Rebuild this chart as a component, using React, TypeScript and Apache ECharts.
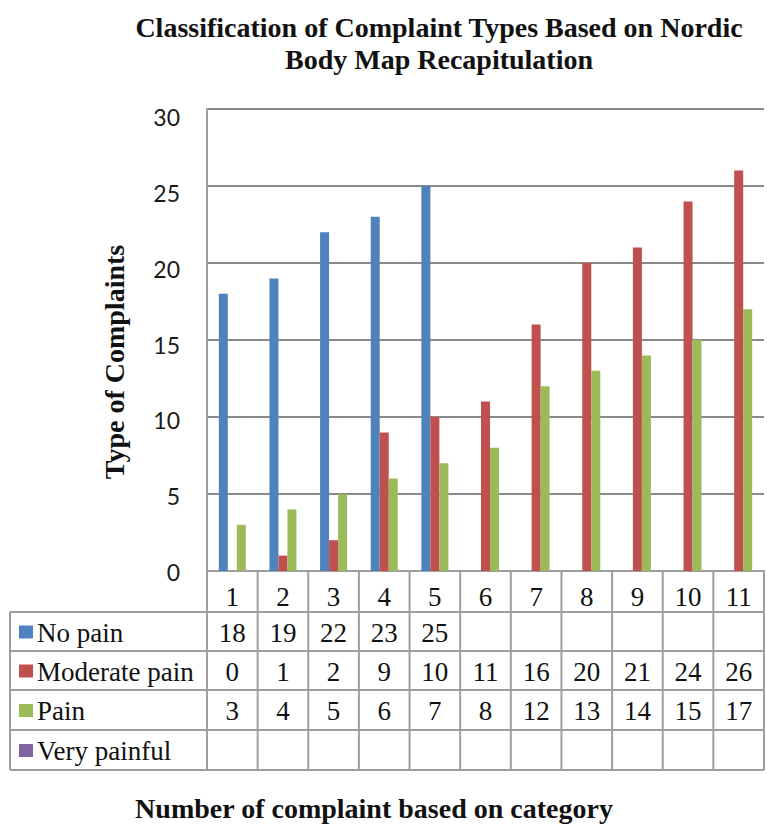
import React, { useEffect, useRef } from "react";
import * as echarts from "echarts";

const categories = ["1", "2", "3", "4", "5", "6", "7", "8", "9", "10", "11"];
const noPain = [18, 19, 22, 23, 25, null, null, null, null, null, null];
const moderatePain = [0, 1, 2, 9, 10, 11, 16, 20, 21, 24, 26];
const pain = [3, 4, 5, 6, 7, 8, 12, 13, 14, 15, 17];
const veryPainful = [null, null, null, null, null, null, null, null, null, null, null];
const seriesNames = ["No pain", "Moderate pain", "Pain", "Very painful"];
const seriesColors = ["#4F81BD", "#C0504D", "#9BBB59", "#8064A2"];
const yMin = 0;
const yMax = 30;
const yInterval = 5;
const titleText = "Classification of Complaint Types Based on Nordic\nBody Map Recapitulation";
const yAxisTitle = "Type of Complaints";
const xAxisTitle = "Number of complaint based on category";

const SERIF = "'Liberation Serif', 'Times New Roman', serif";
const SANS = "Lato, 'Open Sans', sans-serif";
const LINE = "#9e9e9e";

export default function App() {
  const ref = useRef<HTMLDivElement>(null);
  useEffect(() => {
    if (!ref.current) return;
    const chart = echarts.init(ref.current, null, { renderer: "svg" });
    const tableSeries = [noPain, moderatePain, pain, veryPainful];
    const chartSeries = [noPain, moderatePain, pain];
    chart.setOption({
      animation: false,
      backgroundColor: "#ffffff",
      title: [
        {
          text: titleText,
          left: 434,
          top: 6,
          textAlign: "center",
          textStyle: { fontFamily: SERIF, fontWeight: "bold", fontSize: 28, lineHeight: 32, color: "#111" },
        },
        {
          text: xAxisTitle,
          left: 369,
          top: 789,
          textAlign: "center",
          textStyle: { fontFamily: SERIF, fontWeight: "bold", fontSize: 28, lineHeight: 28, color: "#111" },
        },
      ],
      grid: [
        { left: 207, right: 3, top: 109, bottom: 256, containLabel: false },
        { left: 207, right: 3, top: 117, bottom: 255, containLabel: false },
      ],
      xAxis: [
        {
          type: "category",
          gridIndex: 0,
          data: categories,
          axisTick: { show: false },
          axisLine: { show: true, lineStyle: { color: LINE, width: 2 } },
          axisLabel: { fontFamily: SERIF, fontSize: 27, lineHeight: 27, color: "#111", margin: 12, interval: 0 },
          splitLine: { show: false },
        },
        {
          type: "category",
          gridIndex: 1,
          data: categories,
          show: false,
        },
      ],
      yAxis: [
        {
          type: "value",
          gridIndex: 0,
          min: yMin,
          max: yMax,
          interval: yInterval,
          axisLine: { show: true, lineStyle: { color: LINE, width: 2 } },
          axisTick: { show: false },
          axisLabel: { show: false },
          splitLine: { show: true, lineStyle: { color: "#8a8a8a", width: 2 } },
        },
        {
          type: "value",
          gridIndex: 1,
          min: yMin,
          max: yMax,
          interval: yInterval,
          axisLine: { show: false },
          axisTick: { show: false },
          splitLine: { show: false },
          axisLabel: { fontFamily: SANS, fontSize: 23, color: "#1a1a1a", margin: 27 },
        },
      ],
      series: chartSeries.map((d, i) => ({
        name: seriesNames[i],
        type: "bar",
        xAxisIndex: 0,
        yAxisIndex: 0,
        data: d,
        barWidth: 9,
        barGap: "0%",
        itemStyle: { color: seriesColors[i] },
      })),
    });

    const xs = categories.map((_, i) => chart.convertToPixel({ xAxisIndex: 0 }, i) as number);
    const bw = xs.length > 1 ? xs[1] - xs[0] : 50;
    const colLeft = xs[0] - bw / 2;
    const tableRight = xs[xs.length - 1] + bw / 2;
    const tableLeft = 10;
    const headerTop = 571;
    const rowEdges = [612, 651, 690, 730, 770];
    const els: any[] = [];
    const line = (x1: number, y1: number, x2: number, y2: number) =>
      els.push({ type: "line", shape: { x1, y1, x2, y2 }, style: { stroke: LINE, lineWidth: 2 }, z: 10 });
    rowEdges.forEach((y) => line(tableLeft, y, tableRight, y));
    line(tableLeft, rowEdges[0], tableLeft, rowEdges[rowEdges.length - 1]);
    for (let i = 0; i <= categories.length; i++) {
      const x = colLeft + i * bw;
      line(x, headerTop, x, rowEdges[rowEdges.length - 1]);
    }
    els.push({
      type: "text",
      x: 114,
      y: 362,
      rotation: Math.PI / 2,
      style: {
        text: yAxisTitle,
        font: `bold 28px ${SERIF}`,
        fill: "#111",
        textAlign: "center",
        textVerticalAlign: "middle",
      },
      z: 10,
    });
    tableSeries.forEach((data, r) => {
      const cy = (rowEdges[r] + rowEdges[r + 1]) / 2;
      els.push({
        type: "rect",
        shape: { x: 19, y: cy - 6, width: 14, height: 13 },
        style: { fill: seriesColors[r] },
        z: 10,
      });
      els.push({
        type: "text",
        x: 37,
        y: cy + 1,
        style: { text: seriesNames[r], font: `27px ${SERIF}`, fill: "#111", textVerticalAlign: "middle", textAlign: "left" },
        z: 10,
      });
      data.forEach((v, c) => {
        if (v === null || v === undefined) return;
        els.push({
          type: "text",
          x: xs[c],
          y: cy + 1,
          style: { text: String(v), font: `27px ${SERIF}`, fill: "#111", textAlign: "center", textVerticalAlign: "middle" },
          z: 10,
        });
      });
    });
    chart.setOption({ graphic: els });
    return () => chart.dispose();
  }, []);
  return <div ref={ref} style={{ position: "fixed", left: 0, top: 0, width: 767, height: 827 }} />;
}
